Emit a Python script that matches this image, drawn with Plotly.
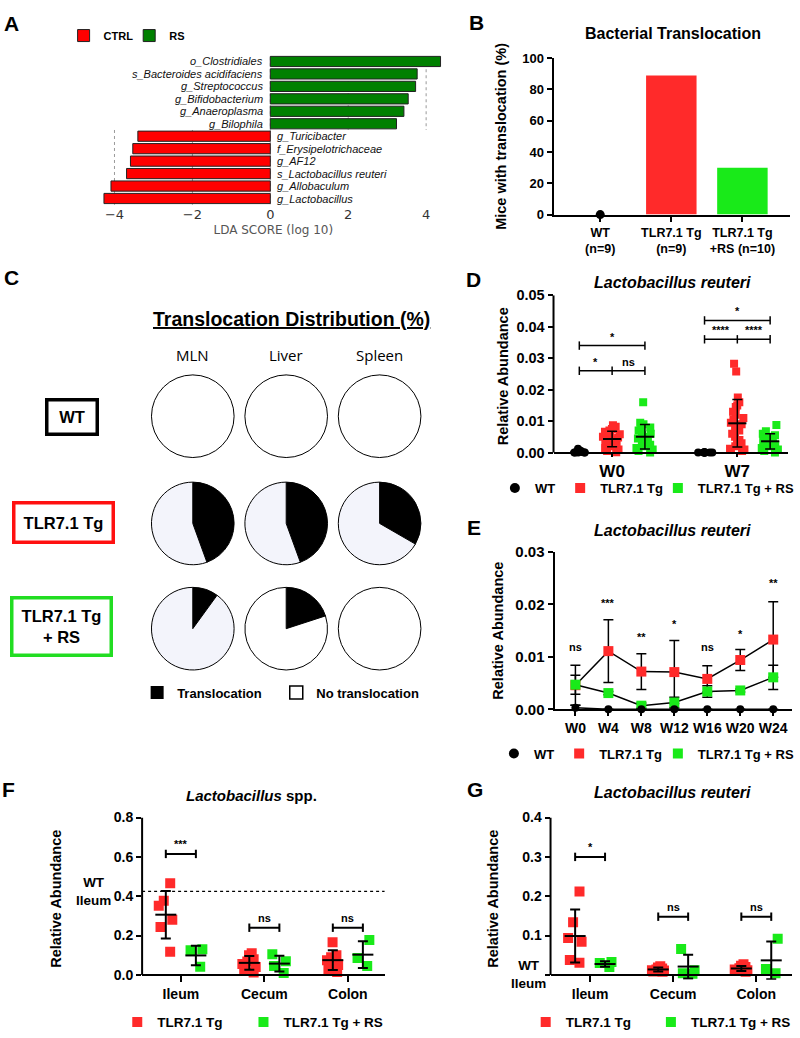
import numpy as np
import plotly.graph_objects as go

# ======================= DATA =======================
# Panel A - LEfSe LDA scores (top -> bottom)
lda_groups = ["CTRL", "RS"]
lda_features = ["o_Clostridiales", "s_Bacteroides acidifaciens", "g_Streptococcus",
                "g_Bifidobacterium", "g_Anaeroplasma", "g_Bilophila",
                "g_Turicibacter", "f_Erysipelotrichaceae", "g_AF12",
                "s_Lactobacillus reuteri", "g_Allobaculum", "g_Lactobacillus"]
lda_scores = [4.37, 3.77, 3.73, 3.54, 3.43, 3.24,
              -3.40, -3.53, -3.59, -3.69, -4.09, -4.27]
lda_ticks = [-4, -2, 0, 2, 4]

# Panel B - bacterial translocation
b_groups = ["WT", "TLR7.1 Tg", "TLR7.1 Tg + RS"]
b_labels = ["WT<br>(n=9)", "TLR7.1 Tg<br>(n=9)", "TLR7.1 Tg<br>+RS (n=10)"]
b_n = [9, 9, 10]
b_translocated = [0, 8, 3]

# Panel C - translocation distribution
c_organs = ["MLN", "Liver", "Spleen"]
c_rows = ["WT", "TLR7.1 Tg", "TLR7.1 Tg<br>+ RS"]
c_n = [9, 9, 10]
c_positive = [[0, 0, 0], [4, 4, 3], [1, 2, 0]]
c_slices = ["Translocation", "No translocation"]

# Panel D - L. reuteri relative abundance, W0 / W7
series = ["WT", "TLR7.1 Tg", "TLR7.1 Tg + RS"]
d_weeks = ["W0", "W7"]
d_wt_w0 = [0, 0, 0, 0, 0, 0.0002, 0.0004, 0.0006, 0.0012]
d_wt_w7 = [0, 0, 0, 0, 0, 0, 0, 0, 0.0001]
d_tg_w0 = [0.0087, 0.0082, 0.0075, 0.0070, 0.0066, 0.0060, 0.0058, 0.0055, 0.0050,
           0.0048, 0.0045, 0.0042, 0.0040, 0.0036, 0.0032, 0.0030, 0.0025, 0.0020,
           0.0015, 0.0010, 0.0005, 0.0001]
d_tg_w7 = [0.0282, 0.0258, 0.0175, 0.0160, 0.0150, 0.0145, 0.0130, 0.0120, 0.0110,
           0.0105, 0.0095, 0.0090, 0.0080, 0.0070, 0.0060, 0.0050, 0.0040, 0.0030,
           0.0030, 0.0020, 0.0012, 0.0010, 0.0008, 0.0005]
d_rs_w0 = [0.0160, 0.0095, 0.0090, 0.0080, 0.0075, 0.0070, 0.0060, 0.0055, 0.0050,
           0.0045, 0.0040, 0.0035, 0.0030, 0.0025, 0.0020, 0.0015, 0.0010, 0.0005, 0.0]
d_rs_w7 = [0.0088, 0.0068, 0.0060, 0.0055, 0.0050, 0.0045, 0.0040, 0.0035, 0.0030,
           0.0030, 0.0025, 0.0020, 0.0015, 0.0010, 0.0005, 0.0]
d_brackets = [("W0", ["WT", "TLR7.1 Tg", "TLR7.1 Tg + RS"], 0.026, ["*", "ns"]),
              ("W0", ["WT", "TLR7.1 Tg + RS"], 0.034, ["*"]),
              ("W7", ["WT", "TLR7.1 Tg", "TLR7.1 Tg + RS"], 0.036, ["****", "****"]),
              ("W7", ["WT", "TLR7.1 Tg + RS"], 0.042, ["*"])]

# Panel E - time course (mean, SD)
e_weeks = ["W0", "W4", "W8", "W12", "W16", "W20", "W24"]
e_wt_mean = [0.0003, 0.0, 0.0, 0.0, 0.0, 0.0, 0.0]
e_wt_sd = [0.0005, 0.0, 0.0, 0.0, 0.0, 0.0, 0.0]
e_tg_mean = [0.0046, 0.0111, 0.0072, 0.0071, 0.0058, 0.0094, 0.0133]
e_tg_sd = [0.0038, 0.0060, 0.0034, 0.0060, 0.0025, 0.0020, 0.0072]
e_rs_mean = [0.0047, 0.0031, 0.0007, 0.0013, 0.0034, 0.0036, 0.0061]
e_rs_sd = [0.0018, 0.0003, 0.0005, 0.0010, 0.0011, 0.0003, 0.0023]
e_sig_labels = ["ns", "***", "**", "*", "ns", "*", "**"]
e_sig_heights = [0.0118, 0.0203, 0.0138, 0.0163, 0.0118, 0.0143, 0.0240]

# Panel F - Lactobacillus spp. by site
sites = ["Ileum", "Cecum", "Colon"]
f_tg = {"Ileum": [0.466, 0.377, 0.352, 0.280, 0.244, 0.118],
        "Cecum": [0.110, 0.100, 0.080, 0.068, 0.055, 0.040, 0.025, 0.012],
        "Colon": [0.166, 0.100, 0.090, 0.075, 0.050, 0.030, 0.015]}
f_rs = {"Ileum": [0.130, 0.125, 0.042],
        "Cecum": [0.105, 0.070, 0.045, 0.010],
        "Colon": [0.178, 0.086, 0.045]}
f_wt_ileum = 0.425
f_brackets = [("Ileum", 0.615, "***"), ("Cecum", 0.240, "ns"), ("Colon", 0.240, "ns")]

# Panel G - L. reuteri by site
g_tg = {"Ileum": [0.212, 0.134, 0.094, 0.084, 0.038, 0.031],
        "Cecum": [0.022, 0.019, 0.016, 0.014, 0.012, 0.011, 0.009, 0.008],
        "Colon": [0.027, 0.023, 0.020, 0.017, 0.014, 0.012, 0.010, 0.008]}
g_rs = {"Ileum": [0.033, 0.030, 0.020],
        "Cecum": [0.066, 0.012, 0.004, 0.003],
        "Colon": [0.092, 0.015, 0.004]}
g_wt_ileum = 0.0
g_brackets = [("Ileum", 0.300, "*"), ("Cecum", 0.148, "ns"), ("Colon", 0.148, "ns")]

# ======================= STYLE / LAYOUT CONSTANTS =======================
W, H = 800, 1038
FONT = "Liberation Sans, Arial, sans-serif"
RED, GREEN, BLACK = "#FF2A2A", "#19EA19", "#000000"
S_COLOR = {"WT": BLACK, "TLR7.1 Tg": RED, "TLR7.1 Tg + RS": GREEN}
S_SYMBOL = {"WT": "circle", "TLR7.1 Tg": "square", "TLR7.1 Tg + RS": "square"}
LAV = "#F3F4FB"


def fx(p):
    return p / W


def fy(p):
    return 1 - p / H


def ydom(p_zero, p_top, v_top, lo, hi):
    scale = (p_zero - p_top) / v_top
    return [fy(p_zero - lo * scale), fy(p_zero - hi * scale)]


def F(size, bold=True, italic=False, family=FONT, color="black"):
    return dict(family=family, size=size, color=color,
                weight="bold" if bold else "normal",
                style="italic" if italic else "normal")


anns, shapes = [], []


def ptext(px, py, s, font, xanchor="center", yanchor="middle", **kw):
    anns.append(dict(x=fx(px), y=fy(py), xref="paper", yref="paper", text=s,
                     showarrow=False, font=font, xanchor=xanchor, yanchor=yanchor, **kw))


def dtext(x, y, s, font, xref, yref, **kw):
    d = dict(x=x, y=y, xref=xref, yref=yref, text=s, showarrow=False, font=font)
    d.update(kw)
    anns.append(d)


fig = go.Figure()

# ======================= PANEL A =======================
for grp, color, lg in zip(lda_groups, ["#FF0000", "#008000"], ["legend", "legend10"]):
    sel = [(f, s) for f, s in zip(lda_features, lda_scores) if (s < 0) == (grp == "CTRL")]
    fig.add_trace(go.Bar(x=[s for _, s in sel], y=[f for f, _ in sel], orientation="h",
                         name=grp, width=0.82, xaxis="x", yaxis="y", legend=lg,
                         marker=dict(color=color, line=dict(color="#222222", width=1)),
                         hoverinfo="skip"))
for f, s in zip(lda_features, lda_scores):
    dtext(0, f, f, F(11, bold=False, italic=True, color="#111111"), "x", "y",
          xanchor="right" if s > 0 else "left", xshift=-5 if s > 0 else 5)
# dotted grid: positive ticks over the RS rows, negative ticks over the CTRL rows
n_rs = sum(1 for s in lda_scores if s > 0)
for t in lda_ticks:
    y0, y1 = (-1.3, len(lda_features) - 0.3) if t == 0 else \
        ((-1.3, n_rs - 0.5) if t > 0 else (n_rs - 0.5, len(lda_features) - 0.3))
    shapes.append(dict(type="line", xref="x", yref="y", x0=t, x1=t, y0=y0, y1=y1, layer="below",
                       line=dict(color="#9a9a9a", width=1, dash="dot")))

# ======================= PANEL B =======================
b_pct = [100 * t / n for t, n in zip(b_translocated, b_n)]
fig.add_trace(go.Bar(x=b_groups, y=b_pct, width=0.71, xaxis="x2", yaxis="y2",
                     marker=dict(color=[S_COLOR[g] for g in b_groups], line=dict(width=0)),
                     showlegend=False, hoverinfo="skip"))
zero_groups = [g for g, p in zip(b_groups, b_pct) if p == 0]
fig.add_trace(go.Scatter(x=zero_groups, y=[0] * len(zero_groups), mode="markers",
                         marker=dict(color=BLACK, size=9), cliponaxis=False,
                         xaxis="x2", yaxis="y2", showlegend=False, hoverinfo="skip"))

# ======================= PANEL C =======================
col_x = [194, 288, 382]
row_y = [414, 523, 630]
R = 42
c_fill = [["white"] * 3, [LAV] * 3, [LAV, "white", "white"]]
for ri, row in enumerate(c_rows):
    for ci, org in enumerate(c_organs):
        pos = c_positive[ri][ci]
        fig.add_trace(go.Pie(
            values=[pos, c_n[ri] - pos], labels=c_slices, sort=False,
            direction="clockwise", rotation=0, textinfo="none", hoverinfo="skip",
            marker=dict(colors=[BLACK, c_fill[ri][ci]], line=dict(color=BLACK, width=1)),
            domain=dict(x=[fx(col_x[ci] - R), fx(col_x[ci] + R)],
                        y=[fy(row_y[ri] + R), fy(row_y[ri] - R)]),
            showlegend=False))
for name, col, lw, lg in zip(c_slices, [BLACK, "white"], [0, 1.5], ["legend2", "legend9"]):
    fig.add_trace(go.Scatter(x=[None], y=[None], mode="markers", name=name, xaxis="x4", yaxis="y4",
                             legend=lg,
                             marker=dict(symbol="square", size=13, color=col,
                                         line=dict(color=BLACK, width=lw))))
ptext(293, 315, "Translocation Distribution (%)", dict(F(19.5), lineposition="under"))
for ci, org in enumerate(c_organs):
    ptext(col_x[ci], 352, org, F(15, bold=False, family="Open Sans, DejaVu Sans, sans-serif"))
box_specs = [(72.5, 414.5, 47, 31, BLACK), (64, 522, 96, 36, "#FF1010"), (62, 628, 96, 54, "#22DD22")]
for (cx, cy, bw, bh, bc), lab in zip(box_specs, c_rows):
    ptext(cx, cy, lab, F(16.5), width=bw, height=bh, bordercolor=bc, borderwidth=3.5,
          borderpad=0, bgcolor="white")

# ======================= PANEL D =======================
d_values = {"WT": {"W0": d_wt_w0, "W7": d_wt_w7},
            "TLR7.1 Tg": {"W0": d_tg_w0, "W7": d_tg_w7},
            "TLR7.1 Tg + RS": {"W0": d_rs_w0, "W7": d_rs_w7}}
D_OFF = 0.262


def d_pos(week, s):
    return d_weeks.index(week) + (series.index(s) - 1) * D_OFF


for s in series:
    for wk in d_weeks:
        vals = d_values[s][wk]
        fig.add_trace(go.Box(x=[d_pos(wk, s)] * len(vals), y=vals, boxpoints="all",
                             jitter=1, pointpos=0, width=0.16,
                             marker=dict(color=S_COLOR[s], symbol=S_SYMBOL[s], size=8),
                             line=dict(width=0, color="rgba(0,0,0,0)"),
                             fillcolor="rgba(0,0,0,0)", xaxis="x3", yaxis="y3",
                             showlegend=False, hoverinfo="skip"))

# ======================= PANEL F / G points =======================
FG_OFF = 0.18


def fg_pos(site, k):
    return sites.index(site) + (-FG_OFF if k == 0 else FG_OFF)


for dct_pair, xa, ya in [((f_tg, f_rs), "x5", "y5"), ((g_tg, g_rs), "x6", "y6")]:
    for k, (dct, s) in enumerate(zip(dct_pair, series[1:])):
        for site in sites:
            vals = dct[site]
            fig.add_trace(go.Box(x=[fg_pos(site, k)] * len(vals), y=vals, boxpoints="all",
                                 jitter=1, pointpos=0, width=0.2,
                                 marker=dict(color=S_COLOR[s], symbol="square", size=10),
                                 line=dict(width=0, color="rgba(0,0,0,0)"),
                                 fillcolor="rgba(0,0,0,0)", xaxis=xa, yaxis=ya,
                                 showlegend=False, hoverinfo="skip"))

# ======================= mean / SD overlays =======================
for s in series:
    xs = [d_pos(wk, s) for wk in d_weeks]
    ms = [float(np.mean(d_values[s][wk])) for wk in d_weeks]
    sds = [float(np.std(d_values[s][wk], ddof=1)) for wk in d_weeks]
    fig.add_trace(go.Scatter(x=xs, y=ms, mode="markers", cliponaxis=False,
                             marker=dict(symbol="line-ew", size=13, line=dict(color=BLACK, width=2)),
                             error_y=dict(type="data", array=sds, color=BLACK, thickness=1.5, width=5),
                             xaxis="x3", yaxis="y3", showlegend=False, hoverinfo="skip"))

for dct_pair, xa, ya in [((f_tg, f_rs), "x5", "y5"), ((g_tg, g_rs), "x6", "y6")]:
    for k, dct in enumerate(dct_pair):
        xs = [fg_pos(site, k) for site in sites]
        ms = [float(np.mean(dct[site])) for site in sites]
        sds = [float(np.std(dct[site], ddof=1)) for site in sites]
        fig.add_trace(go.Scatter(x=xs, y=ms, mode="markers", cliponaxis=False,
                                 marker=dict(symbol="line-ew", size=15, line=dict(color=BLACK, width=2)),
                                 error_y=dict(type="data", array=sds, color=BLACK, thickness=2, width=5),
                                 xaxis=xa, yaxis=ya, showlegend=False, hoverinfo="skip"))

# D brackets
for wk, members, h, labels in d_brackets:
    xs = [d_pos(wk, m) for m in members]
    fig.add_trace(go.Scatter(x=xs, y=[h] * len(xs), mode="lines+markers", cliponaxis=False,
                             line=dict(color=BLACK, width=1.5),
                             marker=dict(symbol="line-ns", size=6, line=dict(color=BLACK, width=1.5)),
                             xaxis="x3", yaxis="y3", showlegend=False, hoverinfo="skip"))
    for i, lab in enumerate(labels):
        dtext((xs[i] + xs[i + 1]) / 2, h, lab, F(11), "x3", "y3", yanchor="bottom", yshift=1)

# F / G brackets
for brs, xa, ya in [(f_brackets, "x5", "y5"), (g_brackets, "x6", "y6")]:
    for site, h, lab in brs:
        xs = [fg_pos(site, 0), fg_pos(site, 1)]
        fig.add_trace(go.Scatter(x=xs, y=[h, h], mode="lines+markers", cliponaxis=False,
                                 line=dict(color=BLACK, width=2),
                                 marker=dict(symbol="line-ns", size=6, line=dict(color=BLACK, width=2)),
                                 xaxis=xa, yaxis=ya, showlegend=False, hoverinfo="skip"))
        dtext(sum(xs) / 2, h, lab, F(11), xa, ya, yanchor="bottom", yshift=2)

# ======================= PANEL E =======================
e_mean = {"WT": e_wt_mean, "TLR7.1 Tg": e_tg_mean, "TLR7.1 Tg + RS": e_rs_mean}
e_sd = {"WT": e_wt_sd, "TLR7.1 Tg": e_tg_sd, "TLR7.1 Tg + RS": e_rs_sd}
for s in ["TLR7.1 Tg", "TLR7.1 Tg + RS", "WT"]:
    fig.add_trace(go.Scatter(x=e_weeks, y=e_mean[s], mode="lines+markers", cliponaxis=False,
                             line=dict(color=BLACK, width=1.5),
                             marker=dict(color=S_COLOR[s], symbol=S_SYMBOL[s],
                                         size=8 if s == "WT" else 10),
                             error_y=dict(type="data", array=e_sd[s], color=BLACK,
                                          thickness=1.5, width=5),
                             xaxis="x4", yaxis="y4", showlegend=False, hoverinfo="skip"))
for wk, lab, h in zip(e_weeks, e_sig_labels, e_sig_heights):
    dtext(wk, h, lab, F(11), "x4", "y4", yanchor="middle")

# ======================= LEGENDS (dummy entries) =======================
legend_map = [("legend3", "x3", "y3", series[:2]), ("legend7", "x3", "y3", series[2:]),
              ("legend4", "x4", "y4", series[:2]), ("legend8", "x4", "y4", series[2:]),
              ("legend5", "x5", "y5", series[1:2]), ("legend11", "x5", "y5", series[2:]),
              ("legend6", "x6", "y6", series[1:2]), ("legend12", "x6", "y6", series[2:])]
for lg, xa, ya, ss in legend_map:
    for s in ss:
        fig.add_trace(go.Scatter(x=[None], y=[None], mode="markers", name=s, legend=lg,
                                 marker=dict(color=S_COLOR[s], symbol=S_SYMBOL[s], size=10),
                                 xaxis=xa, yaxis=ya))

# ======================= AXES =======================
TICKF = F(14)


def ax(**kw):
    base = dict(showline=True, linecolor=BLACK, linewidth=2, ticks="outside", ticklen=5,
                tickwidth=2, tickcolor=BLACK, showgrid=False, zeroline=False,
                tickfont=TICKF, fixedrange=True)
    base.update(kw)
    return base


def leg(px, py, size=13, **kw):
    d = dict(orientation="h", x=fx(px), y=fy(py), xanchor="left", yanchor="middle",
             font=F(size), bgcolor="rgba(0,0,0,0)")
    d.update(kw)
    return d


layout = dict(
    width=W, height=H, margin=dict(l=0, r=0, t=0, b=0),
    paper_bgcolor="white", plot_bgcolor="rgba(0,0,0,0)",
    barmode="overlay", font=dict(family=FONT, color=BLACK),
    # A
    xaxis=dict(domain=[fx(100), fx(450)], range=[-172 / 39.2, 178 / 39.2], anchor="y",
               tickvals=lda_ticks, ticktext=[str(t).replace("-", "\u2212") for t in lda_ticks],
               showgrid=False, zeroline=False, showline=False, ticks="",
               tickfont=dict(family="DejaVu Sans, sans-serif", size=13, color="#333333"),
               title=dict(text="LDA SCORE (log 10)", standoff=4,
                          font=dict(family="DejaVu Sans, sans-serif", size=12, color="#555555"))),
    yaxis=dict(domain=[fy(199), fy(47)], type="category", categoryorder="array",
               categoryarray=lda_features, range=[len(lda_features) - 0.5, -0.5],
               autorange=False, showticklabels=False,
               showgrid=False, zeroline=False, anchor="x"),
    # B
    xaxis2=ax(domain=[fx(557), fx(795)], anchor="y2", type="category",
              range=[-0.657, 2.67], tickvals=b_groups, ticktext=b_labels, tickfont=F(12.5)),
    yaxis2=ax(domain=[fy(209), fy(50)], anchor="x2", range=[0, 100], dtick=20, tickfont=F(13),
              title=dict(text="Mice with translocation (%)", font=F(14.5), standoff=12)),
    # D
    xaxis3=ax(domain=[fx(557), fx(793)], anchor="free", position=fy(451),
              range=[-0.468, 1.405], tickvals=[0, 1], ticktext=d_weeks, ticklen=3,
              tickfont=F(17)),
    yaxis3=ax(domain=ydom(451, 291, 0.05, -0.0015, 0.05), anchor="x3", range=[-0.0015, 0.05],
              tickvals=[0, 0.01, 0.02, 0.03, 0.04, 0.05], tickformat=".2f", showline=False,
              tickfont=F(14.5),
              title=dict(text="Relative Abundance", font=F(14.5), standoff=4)),
    # E
    xaxis4=ax(domain=[fx(558), fx(797)], anchor="y4", type="category",
              range=[-0.634, 6.57], tickfont=F(14)),
    yaxis4=ax(domain=[fy(712), fy(552)], anchor="x4", range=[0, 0.03],
              tickvals=[0, 0.01, 0.02, 0.03], tickformat=".2f", tickfont=F(15),
              title=dict(text="Relative Abundance", font=F(14.5), standoff=8)),
    # F
    xaxis5=ax(domain=[fx(143), fx(387)], anchor="free", position=fy(982),
              range=[-0.464, 2.44], tickvals=[0, 1, 2], ticktext=sites, ticklen=6),
    yaxis5=ax(domain=ydom(982, 822, 0.8, -0.025, 0.8), anchor="x5", range=[-0.025, 0.8],
              tickvals=[0, 0.2, 0.4, 0.6, 0.8], tickformat=".1f", showline=False,
              title=dict(text="Relative Abundance", font=F(14.5), standoff=48)),
    # G
    xaxis6=ax(domain=[fx(554), fx(797)], anchor="free", position=fy(982),
              range=[-0.476, 2.43], tickvals=[0, 1, 2], ticktext=sites, ticklen=6),
    yaxis6=ax(domain=ydom(982, 822, 0.4, -0.0125, 0.4), anchor="x6", range=[-0.0125, 0.4],
              tickvals=[0, 0.1, 0.2, 0.3, 0.4], ticktext=["", "0.1", "0.2", "0.3", "0.4"],
              showline=False,
              title=dict(text="Relative Abundance", font=F(14.5), standoff=20)),
    # legends
    legend=leg(64, 27, 11),
    legend10=leg(130, 27, 11),
    legend2=leg(138, 695),
    legend9=leg(278, 695),
    legend3=leg(498, 487),
    legend7=leg(662, 487),
    legend4=leg(497, 757),
    legend8=leg(662, 757),
    legend5=leg(118, 1030, 13.5),
    legend11=leg(245, 1030, 13.5),
    legend6=leg(529, 1030, 13.5),
    legend12=leg(655, 1030, 13.5),
)

# y-axis lines from 0 to top for D, F, G
for xa, ya, top in [("x3", "y3", 0.05), ("x5", "y5", 0.8), ("x6", "y6", 0.4)]:
    shapes.append(dict(type="line", xref=f"{xa} domain", yref=ya, x0=0, x1=0, y0=0, y1=top,
                       line=dict(color=BLACK, width=2)))
# WT ileum reference (F)
shapes.append(dict(type="line", xref="x5 domain", yref="y5", x0=0, x1=1,
                   y0=f_wt_ileum, y1=f_wt_ileum, line=dict(color=BLACK, width=1.2, dash="dot")))
for xa, ya, val, xs in [("x5", "y5", f_wt_ileum, -49), ("x6", "y6", g_wt_ileum, -22)]:
    dtext(0, val, "WT<br>Ileum", F(13.5), f"{xa} domain", ya, xanchor="center",
          yanchor="middle", xshift=xs)

# titles
ptext(677, 25, "Bacterial Translocation", F(16))
ptext(677, 278, "Lactobacillus reuteri", F(16, italic=True))
ptext(677, 530, "Lactobacillus reuteri", F(16, italic=True))
ptext(253, 800, "<i>Lactobacillus</i> spp.", F(15))
ptext(677, 797, "Lactobacillus reuteri", F(16, italic=True))

# panel letters
for lab, px, py in [("A", 12, 15), ("B", 479, 14), ("C", 12, 273), ("D", 476, 275),
                    ("E", 477, 527), ("F", 9, 793), ("G", 478, 793)]:
    ptext(px, py, lab, F(21))

layout["annotations"] = anns
layout["shapes"] = shapes
fig.update_layout(**layout)

# pin the figure to the page's top-left corner so no page margin offsets it
PIN = ("var gd=document.getElementById('{plot_id}');"
       "document.documentElement.style.overflow='hidden';"
       "document.body.style.margin='0';document.body.style.overflow='hidden';"
       "gd.style.position='absolute';gd.style.left='0px';gd.style.top='0px';")
fig.write_html("out.html", post_script=PIN, config={"displayModeBar": False})
